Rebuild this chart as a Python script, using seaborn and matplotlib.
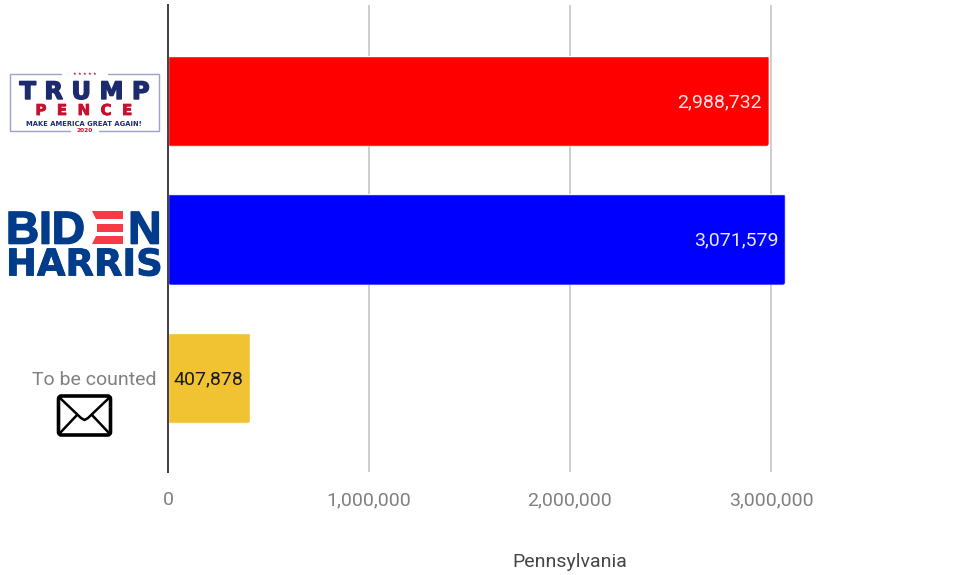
import matplotlib
matplotlib.use('Agg')
import matplotlib.pyplot as plt
import matplotlib.patheffects as pe
import pandas as pd
import seaborn as sns
from matplotlib.patches import FancyBboxPatch, Polygon, Rectangle
from matplotlib.ticker import FuncFormatter
from matplotlib.transforms import IdentityTransform

# Values
categories = ['Trump / Pence', 'Biden / Harris', 'To be counted']
votes = [2988732, 3071579, 407878]
bar_colors = ['#ff0000', '#0000ff', '#f1c232']
label_colors = ['#f6e4e4', '#e8e8ff', '#1a1a1a']
shown_labels = ['', '', 'To be counted']
x_ticks = [0, 1000000, 2000000, 3000000]
x_title = 'Pennsylvania'

W, H = 965, 575
NAVY = '#1c2a6e'
RED = '#c8102e'
BLUE = '#003c8a'
STRIPE = '#f83a46'

sns.set_theme(style='whitegrid')
plt.rcParams['font.family'] = ['Roboto', 'DejaVu Sans']

df = pd.DataFrame({'who': categories, 'votes': votes})

fig = plt.figure(figsize=(W / 100, H / 100), dpi=100, facecolor='white')
# axes box in pixels: left 168, top 5, bottom 472, runs to the right edge
ax = fig.add_axes([168 / W, (H - 472) / H, (W - 168) / W, 467 / H])

sns.barplot(data=df, x='votes', y='who', hue='who', palette=bar_colors,
            saturation=1, width=0.655, dodge=False, legend=False, ax=ax)

ax.set_xlim(0, (W - 168) / 201 * 1e6)
ax.set_ylim(2.679, -0.693)
ax.set_xticks(x_ticks)
ax.xaxis.set_major_formatter(FuncFormatter(lambda v, p: f'{v:,.0f}'))
ax.set_yticks(range(3))
ax.set_yticklabels(shown_labels)
ax.tick_params(axis='x', length=0, pad=14, labelsize=14, labelcolor='#808080')
ax.tick_params(axis='y', length=0, pad=8, labelsize=14, labelcolor='#808080')
ax.grid(axis='x', color='#cfcfcf', linewidth=1.44)
ax.grid(axis='y', visible=False)
ax.set_axisbelow(True)
ax.set_ylabel('')
ax.set_xlabel(x_title, fontsize=14, color='#454545')
ax.xaxis.set_label_coords((570 - 168) / (W - 168), -90 / 467)
ax.xaxis.label.set_va('center')
for side in ['top', 'right', 'bottom']:
    ax.spines[side].set_visible(False)
ax.spines['left'].set_color('#444444')
ax.spines['left'].set_linewidth(1.44)
ax.spines['left'].set_zorder(5)

# value labels inside the bar ends, rounded bar corners
for container, color in zip(ax.containers, label_colors):
    for note in ax.bar_label(container, fmt='{:,.0f}', padding=-5, color=color, fontsize=14):
        note.set_ha('right')
        note.set_y(note.xyann[1])
        note.xyann = (note.xyann[0], note.xyann[1] - 0.7)
    for bar in container:
        box = bar.get_window_extent(fig.canvas.get_renderer())
        clip = FancyBboxPatch((box.x0, box.y0), box.width, box.height,
                              boxstyle='round,pad=0,rounding_size=3',
                              transform=IdentityTransform())
        bar.set_clip_path(clip)

# overlay in pixel coordinates for the two logos and the envelope
art = fig.add_axes([0, 0, 1, 1])
art.set_xlim(0, W)
art.set_ylim(H, 0)
art.axis('off')
art.patch.set_alpha(0)


def heavy(color, width):
    return [pe.withStroke(linewidth=width, foreground=color)]


# Trump logo
frame = '#9da3c6'
art.plot([61, 10, 10, 70], [74, 74, 131, 131], color=frame, lw=1)
art.plot([99, 159, 159, 108], [131, 131, 74, 74], color=frame, lw=1)
art.text(84.5, 74, '★ ★ ★ ★ ★', color=RED, fontsize=3, ha='center', va='center',
         family='DejaVu Sans')
art.text(84.5, 99, 'T R U M P', color=NAVY, fontsize=17.4, weight='bold', ha='center',
         va='baseline', family='DejaVu Sans', path_effects=heavy(NAVY, 1.0))
art.text(84, 115, 'P  E  N  C  E', color=RED, fontsize=10.8, weight='bold', ha='center',
         va='baseline', family='DejaVu Sans', path_effects=heavy(RED, 0.6))
art.text(84, 123, 'MAKE AMERICA GREAT AGAIN!', color=NAVY, fontsize=4.9, weight='bold',
         ha='center', va='center_baseline', family='DejaVu Sans')
art.text(85, 131, '2020', color=RED, fontsize=4.2, weight='bold', ha='center',
         va='center', family='DejaVu Sans')

# Biden logo
art.text(6, 243.5, 'BID', color=BLUE, fontsize=33, weight='bold', ha='left', va='baseline',
         family='Liberation Sans', path_effects=heavy(BLUE, 1.2))
art.text(161.5, 243.5, 'N', color=BLUE, fontsize=33, weight='bold', ha='right', va='baseline',
         family='Liberation Sans', path_effects=heavy(BLUE, 1.2))
art.text(6, 275.5, 'HARRIS', color=BLUE, fontsize=26.6, weight='bold', ha='left', va='baseline',
         family='DejaVu Sans', path_effects=heavy(BLUE, 0.6))
art.add_patch(Polygon([(92, 211), (122.5, 211), (122.5, 219), (96, 219)], color=STRIPE, lw=0))
art.add_patch(Rectangle((97, 223.5), 25.5, 8, color=STRIPE, lw=0))
art.add_patch(Polygon([(96, 235.5), (122.5, 235.5), (122.5, 243.5), (92, 243.5)], color=STRIPE, lw=0))

# envelope
art.add_patch(FancyBboxPatch((58.5, 396), 52, 39, boxstyle='round,pad=0,rounding_size=3',
                             fc='white', ec='black', lw=2.6))
art.plot([60, 81, 84.5, 88, 109], [398, 418, 420, 418, 398], color='black', lw=1.8)
art.plot([60, 77], [433, 415], color='black', lw=1.8)
art.plot([109, 92], [433, 415], color='black', lw=1.8)

fig.savefig('out.png', dpi=100)
